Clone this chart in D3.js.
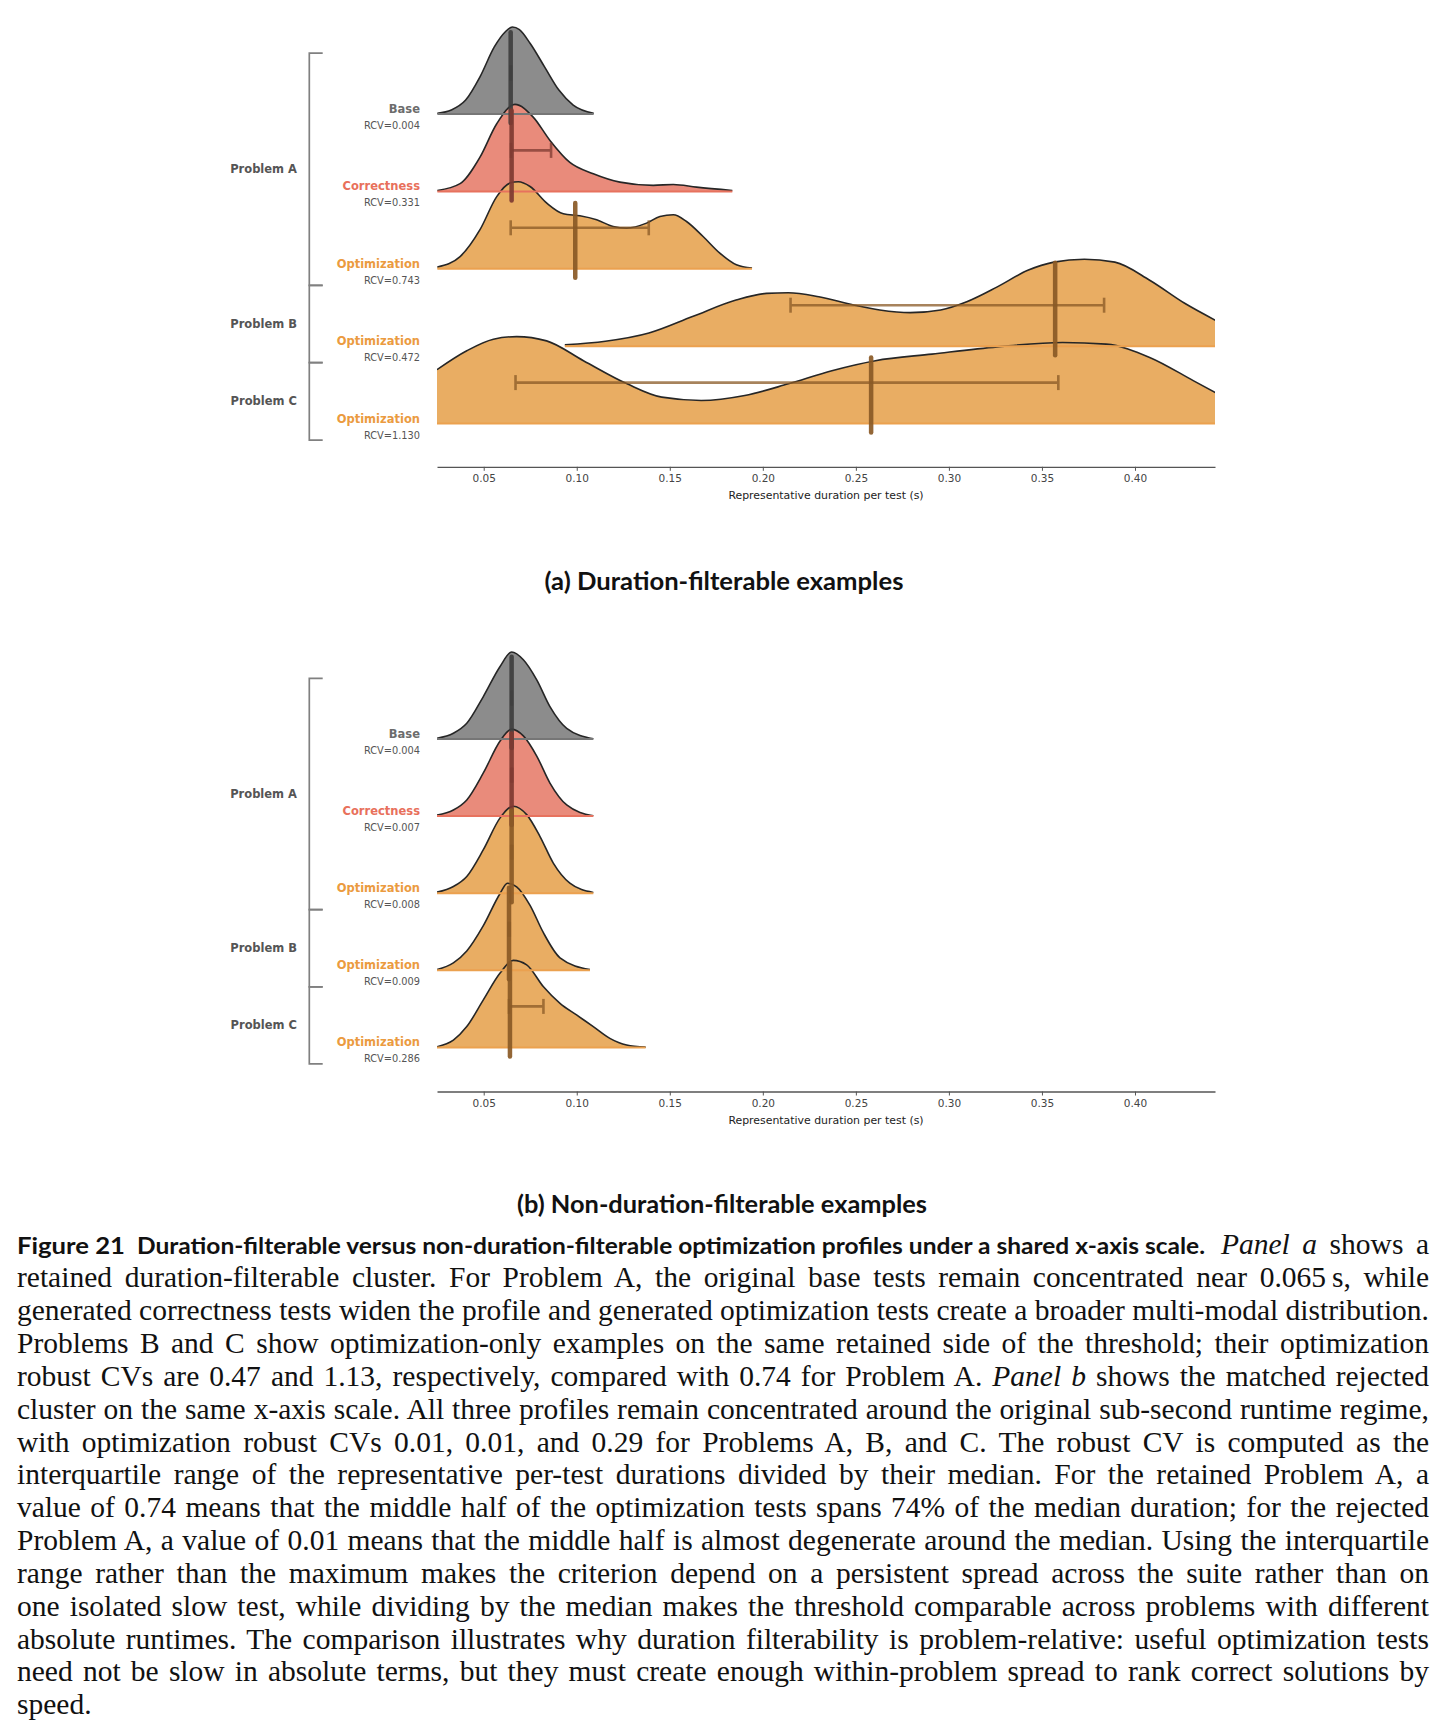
<!DOCTYPE html>
<html>
<head>
<meta charset="utf-8">
<script src="https://cdn.jsdelivr.net/npm/d3@7"></script>
<style>
  body { margin: 0; background: #fff; }
  svg { display: block; }
</style>
</head>
<body>
<svg id="fig" width="1448" height="1735"></svg>
<script>
// ---- values ----
const xTicks = [0.05, 0.10, 0.15, 0.20, 0.25, 0.30, 0.35, 0.40];
const rowLabels = ["Base", "Correctness", "Optimization", "Optimization", "Optimization"];
const rowKinds = ["base", "corr", "opt", "opt", "opt"];
const rowProblem = ["Problem A", "Problem A", "Problem A", "Problem B", "Problem C"];

// panel (a): duration-filterable
const rcvA = [0.004, 0.331, 0.743, 0.472, 1.130];
const medA = [0.0645, 0.0650, 0.0992, 0.3571, 0.2582];
const q1A = [0.0644, 0.0647, 0.0645, 0.2149, 0.0671];
const q3A = [0.0647, 0.0862, 0.1387, 0.3834, 0.3588];
const medTopA = [0.94, 0.93, 0.755, 0.96, 0.76];   // height of the median marker (relative)

// density profiles, [duration, relative height]
const baseA = [[0.0251,0.008],[0.0326,0.046],[0.0403,0.16],[0.048,0.427],[0.0557,0.771],[0.0615,0.943],
  [0.0654,1.0],[0.0692,0.97],[0.075,0.81],[0.0827,0.542],[0.0904,0.275],[0.0981,0.103],[0.1091,0.008]];
const corrA = [[0.0251,0.011],[0.0373,0.089],[0.048,0.394],[0.057,0.778],[0.0668,1.0],[0.0766,0.854],
  [0.0856,0.586],[0.0963,0.333],[0.1089,0.203],[0.1232,0.107],[0.1411,0.069],[0.1519,0.080],[0.1644,0.049],[0.1836,0.011]];
const optProbA_A = [[0.0251,0.02],[0.0373,0.14],[0.048,0.45],[0.057,0.83],[0.0641,0.985],[0.0686,1.0],[0.0749,0.946],
  [0.0839,0.755],[0.0928,0.632],[0.1017,0.609],[0.1107,0.563],[0.1196,0.486],[0.1268,0.468],[0.1375,0.525],
  [0.1447,0.601],[0.1519,0.621],[0.159,0.544],[0.1679,0.371],[0.1769,0.18],[0.1858,0.046],[0.1942,0.008]];
const optProbB_A = [[0.0936,0.016],[0.1154,0.057],[0.1388,0.152],[0.1622,0.341],[0.1856,0.531],[0.202,0.607],
  [0.2137,0.614],[0.2301,0.568],[0.2488,0.474],[0.2628,0.417],[0.2792,0.386],[0.2956,0.417],[0.3096,0.511],
  [0.326,0.682],[0.3424,0.872],[0.3564,0.966],[0.3728,1.0],[0.3892,0.966],[0.4079,0.758],[0.4267,0.493],[0.4445,0.284]];
const optProbC_A = [[0.0249,0.62],[0.0409,0.837],[0.0552,0.970],[0.0677,1.0],[0.0838,0.951],[0.1036,0.723],
  [0.1271,0.457],[0.1457,0.304],[0.1669,0.266],[0.1903,0.323],[0.2137,0.457],[0.2371,0.608],[0.2605,0.723],
  [0.2909,0.799],[0.326,0.882],[0.3611,0.932],[0.3845,0.913],[0.4079,0.761],[0.4313,0.494],[0.4444,0.342]];

// panel (b): non-duration-filterable
const rcvB = [0.004, 0.007, 0.008, 0.009, 0.286];
const medB = [0.0650, 0.0650, 0.0650, 0.0636, 0.0641];
const q1B = [0.0649, 0.0648, 0.0648, 0.0634, 0.0636];
const q3B = [0.0651, 0.0653, 0.0653, 0.0640, 0.0821];
const medTopB = [0.945, 0.95, 0.95, 0.95, 0.97];

const baseB = [[0.0249,0.008],[0.0337,0.066],[0.0409,0.181],[0.0498,0.488],[0.0588,0.834],[0.065,1.0],
  [0.0713,0.911],[0.0785,0.68],[0.0856,0.373],[0.0946,0.123],[0.1089,0.003]];
const corrB = [[0.0249,0.012],[0.0337,0.07],[0.0409,0.186],[0.0498,0.496],[0.0588,0.864],[0.065,1.0],
  [0.0713,0.922],[0.0785,0.69],[0.0856,0.38],[0.0946,0.128],[0.1089,0.003]];
const optProbA_B = [[0.0249,0.012],[0.0337,0.077],[0.0409,0.193],[0.0498,0.5],[0.0588,0.866],[0.0659,1.0],
  [0.0731,0.903],[0.0802,0.654],[0.0874,0.346],[0.0963,0.115],[0.1089,0.008]];
const optProbB_B = [[0.0249,0.008],[0.0337,0.085],[0.0409,0.222],[0.0498,0.513],[0.0588,0.883],[0.0627,1.0],
  [0.0677,0.96],[0.0749,0.747],[0.082,0.435],[0.091,0.144],[0.1071,0.008]];
const optProbC_B = [[0.0249,0.008],[0.0337,0.084],[0.0409,0.239],[0.0498,0.546],[0.0588,0.854],[0.0659,1.0],
  [0.0731,0.949],[0.082,0.7],[0.091,0.507],[0.0999,0.373],[0.1089,0.239],[0.1178,0.104],[0.1268,0.027],[0.137,0.003]];

const capBold = ["Figure 21", "Duration-filterable versus non-duration-filterable optimization profiles under a shared x-axis scale."];
const capFirst = "_Panel a_ shows a";
const capBody = [
  "retained duration-filterable cluster. For Problem A, the original base tests remain concentrated near 0.065\u2009s, while",
  "generated correctness tests widen the profile and generated optimization tests create a broader multi-modal distribution.",
  "Problems B and C show optimization-only examples on the same retained side of the threshold; their optimization",
  "robust CVs are 0.47 and 1.13, respectively, compared with 0.74 for Problem A. _Panel b_ shows the matched rejected",
  "cluster on the same x-axis scale. All three profiles remain concentrated around the original sub-second runtime regime,",
  "with optimization robust CVs 0.01, 0.01, and 0.29 for Problems A, B, and C. The robust CV is computed as the",
  "interquartile range of the representative per-test durations divided by their median. For the retained Problem A, a",
  "value of 0.74 means that the middle half of the optimization tests spans 74% of the median duration; for the rejected",
  "Problem A, a value of 0.01 means that the middle half is almost degenerate around the median. Using the interquartile",
  "range rather than the maximum makes the criterion depend on a persistent spread across the suite rather than on",
  "one isolated slow test, while dividing by the median makes the threshold comparable across problems with different",
  "absolute runtimes. The comparison illustrates why duration filterability is problem-relative: useful optimization tests",
  "need not be slow in absolute terms, but they must create enough within-problem spread to rank correct solutions by",
  "speed."
];

// ---- drawing ----
const svg = d3.select("#fig");
const chartFont = "DejaVu Sans, sans-serif";
const titleFont = "Lato, Noto Sans, sans-serif";
const serifFont = "Liberation Serif, DejaVu Serif, serif";

const colors = {
  base: { fill: "#8c8c8c", label: "#6c6c6c", line: "#767676", med: "#3e3e3e" },
  corr: { fill: "#e98b7b", label: "#e8705b", line: "#e7725e", med: "#7e3a31" },
  opt:  { fill: "#e9ad63", label: "#eb9b3f", line: "#eba14f", med: "#8a5a26" }
};

const x = d3.scaleLinear().domain([0.0249, 0.443]).range([437, 1215]);
const h = d3.scaleLinear().domain([0, 1]).range([0, 87]);

svg.append("defs").append("clipPath").attr("id", "plotclip")
  .append("rect").attr("x", x.range()[0]).attr("y", 0)
  .attr("width", x.range()[1] - x.range()[0]).attr("height", 1735);

function drawPanel(p) {
  const g = svg.append("g");
  const y = d3.scalePoint().domain(d3.range(rowLabels.length))
    .range([p.top, p.top + p.step * (rowLabels.length - 1)]);
  const plot = g.append("g").attr("clip-path", "url(#plotclip)");

  p.curves.forEach(function(c, i) {
    const b = y(i);
    const area = d3.area().x(d => x(d[0])).y0(b).y1(d => b - h(d[1])).curve(d3.curveMonotoneX);
    const line = d3.line().x(d => x(d[0])).y(d => b - h(d[1])).curve(d3.curveMonotoneX);
    plot.append("path").datum(c).attr("d", area).attr("fill", colors[rowKinds[i]].fill);
    plot.append("path").datum(c).attr("d", line)
      .attr("fill", "none").attr("stroke", "#262626").attr("stroke-width", 1.6);
  });

  // baselines on top of the fills
  p.curves.forEach(function(c, i) {
    plot.append("line")
      .attr("x1", x(c[0][0])).attr("x2", x(c[c.length - 1][0]))
      .attr("y1", y(i)).attr("y2", y(i))
      .attr("stroke", colors[rowKinds[i]].line).attr("stroke-width", 2);
  });

  // IQR bars
  p.curves.forEach(function(c, i) {
    const yy = y(i) - 41, col = colors[rowKinds[i]].med;
    const bar = g.append("g").attr("stroke", col).attr("stroke-width", 2.6).attr("opacity", 0.75);
    bar.append("line").attr("x1", x(p.q1[i])).attr("x2", x(p.q3[i])).attr("y1", yy).attr("y2", yy);
    [p.q1[i], p.q3[i]].forEach(function(v) {
      bar.append("line").attr("x1", x(v)).attr("x2", x(v)).attr("y1", yy - 7.5).attr("y2", yy + 7.5);
    });
  });

  // medians
  p.curves.forEach(function(c, i) {
    g.append("line")
      .attr("x1", x(p.med[i])).attr("x2", x(p.med[i]))
      .attr("y1", y(i) + 9).attr("y2", y(i) - h(p.medTop[i]))
      .attr("stroke", colors[rowKinds[i]].med).attr("stroke-width", 4.5)
      .attr("stroke-linecap", "round").attr("opacity", 0.92);
  });

  // row labels
  rowLabels.forEach(function(lab, i) {
    g.append("text").attr("x", 420).attr("y", y(i) - 1)
      .attr("text-anchor", "end").attr("font-family", chartFont).attr("font-weight", "bold")
      .attr("font-size", 11.5).attr("fill", colors[rowKinds[i]].label).text(lab);
    g.append("text").attr("x", 420).attr("y", y(i) + 15)
      .attr("text-anchor", "end").attr("font-family", chartFont)
      .attr("font-size", 9.8).attr("fill", "#555").text("RCV=" + d3.format(".3f")(p.rcv[i]));
  });

  // problem brackets
  d3.groups(d3.range(rowLabels.length), i => rowProblem[i]).forEach(function(grp) {
    const rows = grp[1];
    const top = y(rows[0]) - p.step + 16.5;
    const bot = y(rows[rows.length - 1]) + 16.5;
    g.append("path").attr("d", `M322.7,${top}H309.3V${bot}H322.7`)
      .attr("fill", "none").attr("stroke", "#808080").attr("stroke-width", 1.7);
    g.append("text").attr("x", 297).attr("y", (top + bot) / 2 + 4)
      .attr("text-anchor", "end").attr("font-family", chartFont).attr("font-weight", "bold")
      .attr("font-size", 11.5).attr("fill", "#555").text(grp[0]);
  });

  // x axis
  const ax = g.append("g").attr("transform", `translate(0,${p.axisY})`)
    .call(d3.axisBottom(x).tickValues(xTicks).tickFormat(d3.format(".2f"))
      .tickSize(4).tickSizeOuter(0).tickPadding(4));
  ax.select(".domain").attr("stroke", "#555").attr("stroke-width", 1.3);
  ax.selectAll(".tick line").attr("stroke", "#555");
  ax.selectAll(".tick text").attr("font-family", chartFont).attr("font-size", 10.5).attr("fill", "#444");
  g.append("text").attr("x", (x.range()[0] + x.range()[1]) / 2).attr("y", p.axisY + 32)
    .attr("text-anchor", "middle").attr("font-family", chartFont).attr("font-size", 10.9)
    .attr("fill", "#222").text("Representative duration per test (s)");
}

drawPanel({ top: 114, step: 77.4, axisY: 466.8,
  curves: [baseA, corrA, optProbA_A, optProbB_A, optProbC_A],
  rcv: rcvA, med: medA, q1: q1A, q3: q3A, medTop: medTopA });
drawPanel({ top: 739, step: 77.1, axisY: 1091.5,
  curves: [baseB, corrB, optProbA_B, optProbB_B, optProbC_B],
  rcv: rcvB, med: medB, q1: q1B, q3: q3B, medTop: medTopB });

// scale a text's font-size so it spans the given width
function fitWidth(t, width) {
  const w = t.node().getComputedTextLength();
  t.attr("font-size", parseFloat(t.attr("font-size")) * width / w);
  return t;
}

fitWidth(svg.append("text").attr("x", 724).attr("y", 590).attr("text-anchor", "middle")
  .attr("font-family", titleFont).attr("font-weight", 700).attr("font-size", 20).attr("fill", "#111")
  .text("(a) Duration-filterable examples"), 359);
fitWidth(svg.append("text").attr("x", 722).attr("y", 1213).attr("text-anchor", "middle")
  .attr("font-family", titleFont).attr("font-weight", 700).attr("font-size", 20).attr("fill", "#111")
  .text("(b) Non-duration-filterable examples"), 410);

// caption
const capLeft = 17, capRight = 1429, capTop = 1254.4, capStep = 32.85;

function addSegments(t, str) {
  str.split("_").forEach(function(s, k) {
    if (!s) return;
    t.append("tspan").attr("font-style", k % 2 ? "italic" : null).text(s);
  });
  return t;
}

const bodyLines = capBody.map(function(s, i) {
  return addSegments(svg.append("text").attr("x", capLeft).attr("y", capTop + capStep * (i + 1))
    .attr("font-family", serifFont).attr("font-size", 25).attr("fill", "#111"), s);
});
const natural = bodyLines.slice(0, -1).map(t => t.node().getComputedTextLength());
const serifSize = 25 * (capRight - capLeft) / d3.max(natural);
bodyLines.forEach(t => t.attr("font-size", serifSize));
bodyLines.slice(0, -1).forEach(function(t, i) {
  const w = t.node().getComputedTextLength();
  const gaps = capBody[i].split(" ").length - 1;
  t.style("word-spacing", ((capRight - capLeft - w) / gaps) + "px");
});

// first caption line: bold run-in title (condensed), then the serif text stretched flush right
const serifStart = 1221;
const firstSerif = addSegments(svg.append("text").attr("x", serifStart).attr("y", capTop)
  .attr("font-family", serifFont).attr("font-size", serifSize).attr("fill", "#111"), capFirst);
const fw = firstSerif.node().getComputedTextLength();
firstSerif.style("word-spacing", ((capRight - serifStart - fw) / (capFirst.split(" ").length - 1)) + "px");

svg.append("text").attr("x", 137).attr("y", capTop)
  .attr("font-family", titleFont).attr("font-weight", 700).attr("font-size", 23.5).attr("fill", "#111")
  .attr("textLength", 1205 - 137).attr("lengthAdjust", "spacingAndGlyphs")
  .text(capBold[1]);
svg.append("text").attr("x", capLeft).attr("y", capTop)
  .attr("font-family", titleFont).attr("font-weight", 700).attr("font-size", 23.5).attr("fill", "#111")
  .attr("textLength", 108).attr("lengthAdjust", "spacingAndGlyphs")
  .text(capBold[0]);
</script>
</body>
</html>
